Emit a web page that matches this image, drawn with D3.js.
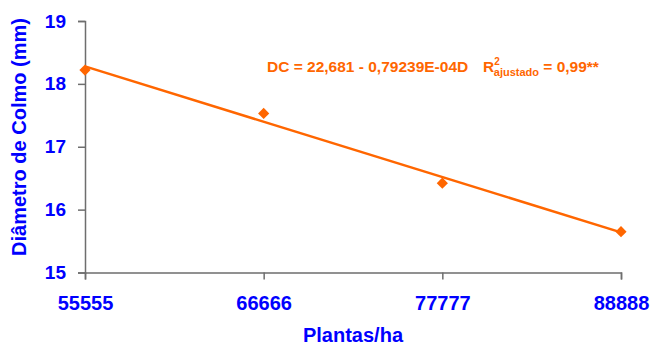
<!DOCTYPE html>
<html>
<head>
<meta charset="utf-8">
<script src="https://cdn.jsdelivr.net/npm/d3@7"></script>
<style>
  html, body { margin: 0; padding: 0; background: #fff; }
  svg { display: block; font-family: "Liberation Sans", Arial, sans-serif; }
</style>
</head>
<body>
<svg id="chart" width="651" height="345"></svg>
<script>
// Stem diameter versus plant density
const densities = [55555, 66666, 77777, 88888];
const diameters = [18.22, 17.53, 16.42, 15.65];
const xTickLabels = ["55555", "66666", "77777", "88888"];
const yTicks = [15, 16, 17, 18, 19];

// Fitted regression: DC = 22.681 - 0.79239E-04 * D
const intercept = 22.681;
const slope = -0.79239e-4;

const blue = "#0000FF";
const orange = "#FF6600";
const axisGrey = "#6e6e6e";

const svg = d3.select("#chart");
const margin = { left: 85, top: 21 };

const x = d3.scaleLinear().domain([55555, 88888]).range([margin.left, 621]);
const y = d3.scaleLinear().domain([15, 19]).range([272.5, margin.top]);

// Y axis
const yAxis = svg.append("g")
  .attr("transform", `translate(${margin.left},0)`)
  .call(d3.axisLeft(y).tickValues(yTicks).tickFormat(d3.format("d")).tickSize(7).tickPadding(12));
yAxis.select(".domain").attr("stroke", axisGrey).attr("stroke-width", 1.5);
yAxis.selectAll(".tick line").attr("stroke", axisGrey).attr("stroke-width", 1.5);
yAxis.selectAll(".tick text")
  .attr("fill", blue).attr("font-size", 19).attr("font-weight", "bold")
  .attr("font-family", "Liberation Sans, Arial, sans-serif");

// X axis
const xAxis = svg.append("g")
  .attr("transform", `translate(0,${y(15)})`)
  .call(d3.axisBottom(x).tickValues(densities).tickFormat((d, i) => xTickLabels[i]).tickSize(7).tickPadding(16));
xAxis.select(".domain").attr("stroke", axisGrey).attr("stroke-width", 1.5);
xAxis.selectAll(".tick line").attr("stroke", axisGrey).attr("stroke-width", 1.5);
xAxis.selectAll(".tick text")
  .attr("fill", blue).attr("font-size", 20).attr("font-weight", "bold")
  .attr("font-family", "Liberation Sans, Arial, sans-serif");

// Axis titles
svg.append("text")
  .attr("x", 353).attr("y", 342)
  .attr("text-anchor", "middle")
  .attr("fill", blue).attr("font-size", 20).attr("font-weight", "bold")
  .text("Plantas/ha");

svg.append("text")
  .attr("transform", "translate(26,137) rotate(-90)")
  .attr("text-anchor", "middle")
  .attr("fill", blue).attr("font-size", 20).attr("font-weight", "bold")
  .text("Diâmetro de Colmo (mm)");

// Regression line
const fitX = d3.extent(densities);
svg.append("line")
  .attr("x1", x(fitX[0])).attr("y1", y(intercept + slope * fitX[0]))
  .attr("x2", x(fitX[1])).attr("y2", y(intercept + slope * fitX[1]))
  .attr("stroke", orange).attr("stroke-width", 2.5);

// Observed points as diamonds
svg.append("g").selectAll("path")
  .data(densities.map((d, i) => [d, diameters[i]]))
  .join("path")
  .attr("transform", d => `translate(${x(d[0])},${y(d[1])})`)
  .attr("d", d3.symbol().type(d3.symbolDiamond2).size(80))
  .attr("fill", orange);

// Equation annotation
const eq = svg.append("text")
  .attr("x", 267).attr("y", 72)
  .attr("fill", orange).attr("font-size", 15.5).attr("font-weight", "bold");
eq.append("tspan").text("DC = 22,681 - 0,79239E-04D");
eq.append("tspan").attr("x", 483).text("R");
eq.append("tspan").attr("dy", -7).attr("font-size", 10).text("2");
eq.append("tspan").attr("dx", -6).attr("dy", 11).attr("font-size", 11).text("ajustado");
eq.append("tspan").attr("dy", -4).text(" = 0,99**");
</script>
</body>
</html>
